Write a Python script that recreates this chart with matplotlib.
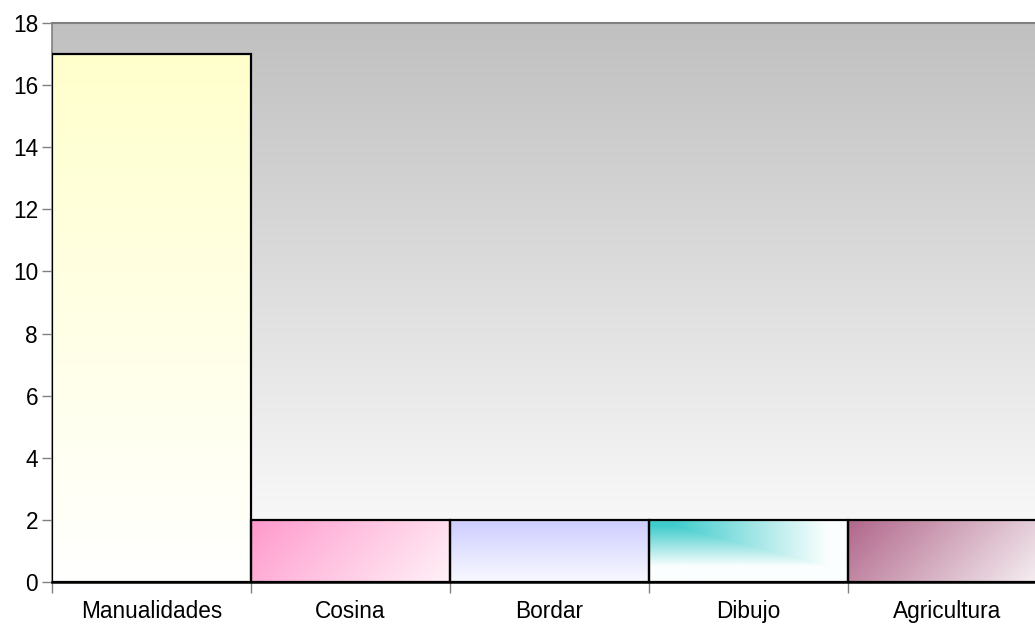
import numpy as np
import matplotlib
matplotlib.use("Agg")
import matplotlib.pyplot as plt
from matplotlib.colors import to_rgb

categories = ["Manualidades", "Cosina", "Bordar", "Dibujo", "Agricultura"]
values = [17, 2, 2, 2, 2]
y_ticks = [0, 2, 4, 6, 8, 10, 12, 14, 16, 18]

W, H = 1035, 629
fig = plt.figure(figsize=(W / 100, H / 100), dpi=100)
fig.patch.set_facecolor("white")
left, right, top, bottom = 52, 1047, 23, 582
ax = fig.add_axes([left / W, 1 - bottom / H, (right - left) / W, (bottom - top) / H])
plt.rcParams["font.family"] = ["Liberation Sans", "DejaVu Sans"]

n = len(categories)
ax.set_xlim(-0.5, n - 0.5)
ax.set_ylim(0, 18)

# background gradient
grad = np.linspace(0, 1, 256)[:, None]
c_top = np.array(to_rgb("#c0c0c0"))
c_bot = np.array([1.0, 1.0, 1.0])
bg = c_top[None, None, :] * (1 - grad[..., None]) + c_bot[None, None, :] * grad[..., None]
bg = np.repeat(bg, 2, axis=1)
ax.imshow(bg, extent=(-0.5, n - 0.5, 0, 18), aspect="auto", origin="upper", zorder=0)

# bar gradient specs: (start colour, end colour, mode)
styles = [
    ("#ffffcc", "#ffffff", "v"),
    ("#ff99cc", "#fff2f8", "d"),
    ("#ccccff", "#f9f9ff", "v"),
    ("#40cccc", "#fbfefe", "corner"),
    ("#b0668a", "#f8f4f6", "d"),
]

bars = ax.bar(range(n), values, width=1.0, color="none", edgecolor="black",
              linewidth=1.6, zorder=3)
for i, (b, v) in enumerate(zip(bars, values)):
    c0, c1, mode = styles[i]
    c0 = np.array(to_rgb(c0)); c1 = np.array(to_rgb(c1))
    bw_px = 199.0
    bh_px = v / 18 * (bottom - top)
    nx, ny = 200, max(int(bh_px), 2)
    u = np.linspace(0, 1, nx)[None, :]
    w = np.linspace(0, 1, ny)[:, None]
    if mode == "v":
        t = np.repeat(w, nx, axis=1)
    elif mode == "d":
        t = (u * bw_px + w * bh_px) / (bw_px + bh_px)
    else:
        tt = np.maximum(u * np.ones_like(w), w * 1.2 * np.ones_like(u))
        t = np.clip((tt - 0.12) / 0.78, 0, 1)
    img = c0[None, None, :] * (1 - t[..., None]) + c1[None, None, :] * t[..., None]
    im = ax.imshow(img, extent=(i - 0.5, i + 0.5, 0, v), aspect="auto",
                   origin="upper", zorder=2)
    im.set_clip_path(b)

ax.set_xlim(-0.5, n - 0.5)
ax.set_ylim(0, 18)

# spines
ax.spines["right"].set_visible(False)
ax.spines["top"].set_color("#808080")
ax.spines["top"].set_linewidth(1.5)
ax.spines["left"].set_color("#808080")
ax.spines["left"].set_linewidth(1.2)
ax.spines["bottom"].set_color("black")
ax.spines["bottom"].set_linewidth(1.8)
ax.spines["bottom"].set_zorder(4)

ax.set_yticks(y_ticks)
ax.set_yticklabels([str(t) for t in y_ticks])
ax.tick_params(axis="y", direction="out", length=7, width=1, color="#808080",
               labelsize=16.3, pad=3)

ax.set_xticks([i - 0.5 for i in range(n)])
ax.set_xticklabels([])
ax.set_xticks(range(n), minor=True)
ax.set_xticklabels(categories, minor=True)
ax.tick_params(axis="x", which="major", direction="out", length=8, width=1, color="#808080")
ax.tick_params(axis="x", which="minor", length=0, labelsize=16.3, pad=13)

for lab in ax.get_xticklabels(minor=True) + ax.get_yticklabels():
    lab.set_fontfamily(["Liberation Sans", "DejaVu Sans"])

fig.savefig("out.png", dpi=100)
